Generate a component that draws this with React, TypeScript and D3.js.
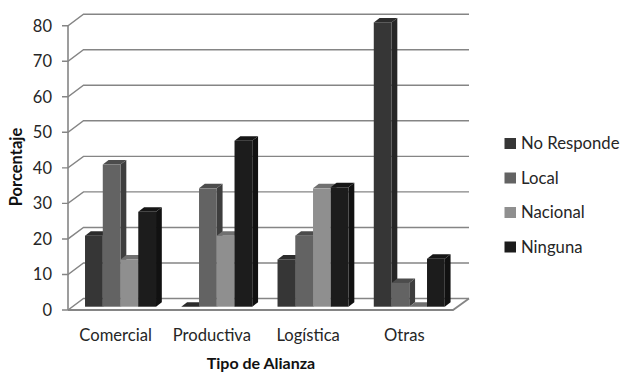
import React from "react";
import * as d3 from "d3";

const categories = ["Comercial", "Productiva", "Logística", "Otras"];
const seriesNames = ["No Responde", "Local", "Nacional", "Ninguna"];
const noResponde = [20, 0, 13.3, 80];
const local = [40, 33.3, 20, 6.7];
const nacional = [13.3, 20, 33.3, 0];
const ninguna = [26.7, 46.7, 33.6, 13.5];
const seriesValues = [noResponde, local, nacional, ninguna];
const yTicks = [0, 10, 20, 30, 40, 50, 60, 70, 80];

const frontColors = ["#363636", "#636363", "#8f8f8f", "#1c1c1c"];
const sideColors = ["#262626", "#3e3e3e", "#666666", "#111111"];
const topColors = ["#2c2c2c", "#4c4c4c", "#707070", "#161616"];
const gridColor = "#858585";
const font = "Lato, 'Open Sans', sans-serif";

const WIDTH = 623;
const HEIGHT = 372;
const left = 68;
const right = 453;
const depthX = 15.5;
const depthY = 11.5;
const groupWidth = 71;

export default function App() {
  const y = d3.scaleLinear().domain([0, 80]).range([310, 25.7]);
  const x0 = d3.scaleBand().domain(categories).range([left, right]);
  const x1 = d3.scaleBand().domain(seriesNames).range([0, groupWidth]);

  // Bars stand part-way into the floor, so they are lifted off the front edge.
  const barShiftX = 4.4;
  const barShiftY = 3.3;
  const sideX = 5.8;
  const sideY = 4.5;
  const inset = (x0.bandwidth() - groupWidth) / 2;

  return (
    <svg
      width={WIDTH}
      height={HEIGHT}
      viewBox={`0 0 ${WIDTH} ${HEIGHT}`}
      style={{ position: "absolute", left: 0, top: 0, background: "#fff" }}
      fontFamily={font}
    >
      {/* Wall gridlines with their diagonal returns to the axis */}
      {yTicks.map((t) => (
        <path
          key={t}
          d={`M${left - 6},${y(t)}H${left}L${left + depthX},${y(t) - depthY}H${right + depthX + 0.5}`}
          fill="none"
          stroke={gridColor}
          strokeWidth={1.4}
        />
      ))}
      {/* Floor outline and value axis */}
      <path
        d={`M${left},${y(0)}H${right}L${right + depthX + 0.5},${y(0) - depthY}`}
        fill="none"
        stroke={gridColor}
        strokeWidth={1.8}
      />
      <line x1={left} x2={left} y1={y(80)} y2={y(0)} stroke={gridColor} strokeWidth={1.6} />

      {/* Extruded bars, drawn back-to-front within each group */}
      {categories.map((c, i) => (
        <g key={c}>
          {seriesNames.map((s, j) => {
            const v = seriesValues[j][i];
            const bx = (x0(c) as number) + inset + barShiftX + (x1(s) as number);
            const w = x1.bandwidth();
            const top = y(v) - barShiftY;
            const base = y(0) - barShiftY;
            return (
              <g key={s}>
                <path
                  d={`M${bx + w},${top}L${bx + w + sideX},${top - sideY}V${base - sideY}L${bx + w},${base}Z`}
                  fill={sideColors[j]}
                />
                <path
                  d={`M${bx},${top}L${bx + sideX},${top - sideY}H${bx + w + sideX}L${bx + w},${top}Z`}
                  fill={topColors[j]}
                />
                <rect x={bx} y={top} width={w} height={base - top} fill={frontColors[j]} />
              </g>
            );
          })}
        </g>
      ))}

      {/* Value tick labels */}
      {yTicks.map((t) => (
        <text key={t} x={52} y={y(t)} dy="0.36em" textAnchor="end" fontSize={16.5} fill="#262626">
          {t}
        </text>
      ))}
      {/* Category labels */}
      {categories.map((c) => (
        <text
          key={c}
          x={(x0(c) as number) + x0.bandwidth() / 2 - 0.5}
          y={335}
          dy="0.36em"
          textAnchor="middle"
          fontSize={16.6}
          fill="#262626"
        >
          {c}
        </text>
      ))}
      {/* Axis titles */}
      <text x={261} y={364} textAnchor="middle" dy="0.3em" fontSize={16} fontWeight={700} fill="#111">
        Tipo de Alianza
      </text>
      <text
        transform="translate(16,167) rotate(-90)"
        dy="0.36em"
        textAnchor="middle"
        fontSize={16.5}
        fontWeight={700}
        fill="#111"
      >
        Porcentaje
      </text>
      {/* Legend */}
      {seriesNames.map((s, j) => (
        <g key={s}>
          <rect x={504.5} y={138 + j * 34.5} width={11.5} height={11} fill={frontColors[j]} />
          <text x={521} y={143 + j * 34.5} dy="0.36em" fontSize={16.7} fill="#262626">
            {s}
          </text>
        </g>
      ))}
    </svg>
  );
}
